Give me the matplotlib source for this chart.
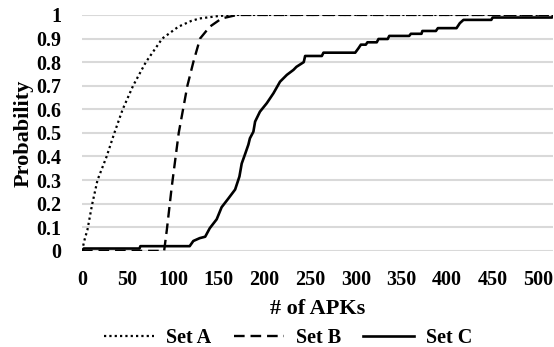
import matplotlib.pyplot as plt

plt.rcParams['font.family'] = ['Liberation Serif', 'DejaVu Serif']
plt.rcParams['font.weight'] = 'bold'

# Set A CDF
a_x = [0, 3, 6, 11, 17, 27, 35.5, 44.6, 56, 70, 88, 105.6, 120, 129, 151, 168, 516]
a_p = [0, 0.05, 0.09, 0.195, 0.3, 0.4, 0.5, 0.6, 0.7, 0.8, 0.9, 0.95, 0.975, 0.985, 0.996, 1, 1]

# Set B CDF
b_x = [0, 90, 93, 98, 99.3, 106, 115.5, 122, 129.4, 140, 153, 170, 516]
b_p = [0, 0, 0.09, 0.26, 0.3, 0.5, 0.7, 0.8, 0.9, 0.95, 0.985, 1, 1]

# Set C CDF (step-like)
c_x = [0, 2, 63, 64, 118, 122, 129, 135, 140, 147.6, 153, 160, 167.8, 172.5, 175,
       178.7, 182.3, 184, 187.8, 189.7, 195, 202.5, 209.8, 217, 224.5, 231.7, 235,
       241, 243, 244.5, 262.8, 264.6, 299.4, 303, 305.6, 311, 312.8, 323, 324.9,
       335, 336.7, 358.5, 360.4, 372, 373, 387.8, 390, 410.4, 414, 418, 448.5,
       450, 515, 517]
c_p = [0, 0.01, 0.01, 0.02, 0.02, 0.042, 0.054, 0.06, 0.096, 0.134, 0.185, 0.22,
       0.26, 0.315, 0.37, 0.41, 0.45, 0.477, 0.505, 0.548, 0.59, 0.626, 0.668,
       0.717, 0.746, 0.767, 0.78, 0.795, 0.80, 0.826, 0.826, 0.84, 0.84, 0.859,
       0.874, 0.874, 0.884, 0.884, 0.898, 0.898, 0.911, 0.911, 0.92, 0.92, 0.932,
       0.932, 0.944, 0.944, 0.965, 0.979, 0.979, 0.989, 0.989, 1]

xticks = list(range(0, 501, 50))
yticks = [i / 10 for i in range(11)]
ytick_labels = ['0', '0.1', '0.2', '0.3', '0.4', '0.5', '0.6', '0.7', '0.8', '0.9', '1']

fig = plt.figure(figsize=(5.54, 3.47), dpi=100)
ax = fig.add_axes([0.148, 0.277, 0.85, 0.68])

ax.plot(a_x, a_p, color='black', lw=1.6, linestyle=(0, (1, 1.4)), label='Set A')
ax.plot(b_x, b_p, color='black', lw=1.7, linestyle=(0, (4.5, 2.5)), label='Set B')
ax.plot(c_x, c_p, color='black', lw=1.9, linestyle='-', label='Set C')

ax.set_xlim(0, 516)
ax.set_ylim(0, 1)
ax.set_xticks(xticks)
ax.set_yticks(yticks)
ax.set_yticklabels(ytick_labels)
ax.tick_params(axis='y', length=0, labelsize=14.5, pad=15)
ax.tick_params(axis='x', length=0, labelsize=14.5, pad=14)
for lab in ax.get_xticklabels() + ax.get_yticklabels():
    lab.set_fontweight('bold')
ax.grid(axis='y', color='#d9d9d9', lw=1.5)
ax.set_axisbelow(True)
for s in ax.spines.values():
    s.set_visible(False)

ax.set_xlabel('# of APKs', fontsize=16, fontweight='bold', labelpad=6)
ax.set_ylabel('Probability', fontsize=16, fontweight='bold', labelpad=2)

fig.legend(loc='center', bbox_to_anchor=(0.52, 0.026), ncol=3, frameon=False,
           prop={'size': 14.5, 'weight': 'bold'}, handlelength=2.5,
           columnspacing=1.1, handletextpad=0.6, borderpad=0.1)

fig.savefig('out.png', dpi=100)
